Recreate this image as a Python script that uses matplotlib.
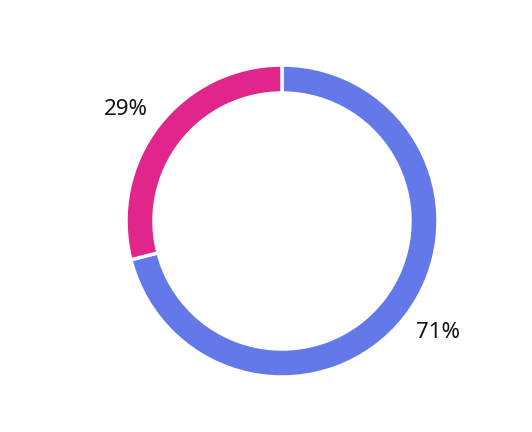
import numpy as np
import matplotlib
matplotlib.use('Agg')
import matplotlib.pyplot as plt

labels = ['71%', '29%']
values = [71, 29]
colors = ['#6379EA', '#E0268A']

plt.rcParams['font.family'] = ['Noto Sans', 'DejaVu Sans']

fig = plt.figure(figsize=(5.32, 4.32), dpi=100)
ax = fig.add_axes([0, 0, 1, 1])
wedges, texts = ax.pie(values, colors=colors, labels=labels, startangle=90, counterclock=False,
                       radius=156, labeldistance=1.23,
                       wedgeprops=dict(width=28, edgecolor='white', linewidth=2.5),
                       textprops=dict(fontsize=16, color='#111111'))
# labels sit a little counter-clockwise of the slice middle
rot = np.deg2rad(2.3)
for t in texts:
    x, y = t.get_position()
    t.set_position((x * np.cos(rot) - y * np.sin(rot), x * np.sin(rot) + y * np.cos(rot)))
    t.set_ha('center')
    t.set_va('center')
ax.set_xlim(-282, 250)
ax.set_ylim(-211, 221)
ax.set_aspect('equal')
ax.axis('off')
fig.savefig('out.png', dpi=100)
